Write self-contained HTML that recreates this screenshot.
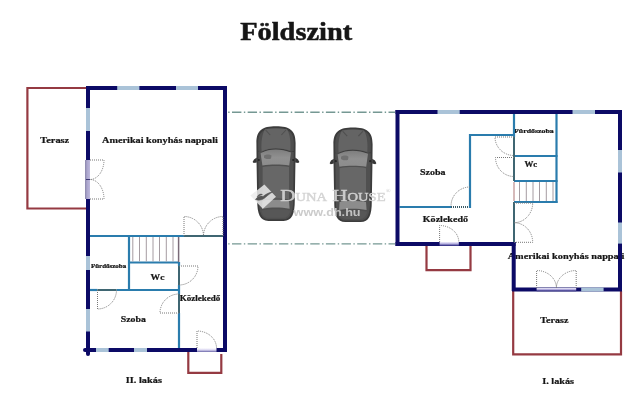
<!DOCTYPE html>
<html><head><meta charset="utf-8">
<style>
html,body{margin:0;padding:0;background:#fff;width:640px;height:400px;overflow:hidden}
svg{display:block;will-change:transform}
text{font-family:"Liberation Serif",serif;font-weight:bold;fill:#161616}
.lb text{stroke:#161616;stroke-width:0.22}
.w{stroke:#0c0a66;stroke-width:4;fill:none}
.win{stroke:#aac3d8;stroke-width:4;fill:none}
.lav{stroke:#b1abd0;stroke-width:4;fill:none}
.t{stroke:#2a7cad;stroke-width:2.2;fill:none}
.r{stroke:#953a42;stroke-width:2.2;fill:none}
.d{stroke:#777;stroke-width:1;fill:none;stroke-dasharray:1 1}
.op{stroke:#3f6672;stroke-width:2;fill:none}
.st{stroke:#a59ca2;stroke-width:1;fill:none}
.dl{stroke:#759893;stroke-width:1.4;fill:none;stroke-dasharray:1.4 2.4 9.4 2.45}
</style></head>
<body>
<svg width="640" height="400" viewBox="0 0 640 400">
<defs>
<linearGradient id="gv" x1="0" y1="0" x2="0" y2="1"><stop offset="0" stop-color="#f0eefa"/><stop offset="0.45" stop-color="#b4aee0"/><stop offset="1" stop-color="#1c1875"/></linearGradient>
<linearGradient id="gv2" x1="0" y1="0" x2="0" y2="1"><stop offset="0" stop-color="#ffffff"/><stop offset="0.5" stop-color="#d8d4f0"/><stop offset="1" stop-color="#6a66a8"/></linearGradient>
<linearGradient id="gh" x1="0" y1="0" x2="1" y2="0"><stop offset="0" stop-color="#8a86aa"/><stop offset="0.4" stop-color="#aaa4cc"/><stop offset="1" stop-color="#bdb8dc"/></linearGradient>
<linearGradient id="ws" x1="0" y1="0" x2="0" y2="1"><stop offset="0" stop-color="#7e7e7e"/><stop offset="0.5" stop-color="#909090"/><stop offset="1" stop-color="#8c8c8c"/></linearGradient>
</defs>
<!-- Title -->
<text x="240.2" y="40.4" font-size="24.5" textLength="112" lengthAdjust="spacingAndGlyphs" style="stroke:#161616;stroke-width:0.5">Földszint</text>

<!-- carport dashed lines -->
<line class="dl" x1="228.2" y1="112.2" x2="395" y2="112.2"/>
<line class="dl" x1="228.2" y1="243.9" x2="395" y2="243.9"/>

<!-- ===== LABELS ===== -->
<g class="lb">
<text x="40.25" y="142.7" font-size="9.0" textLength="28.95" lengthAdjust="spacingAndGlyphs">Terasz</text>
<text x="102.1" y="142.5" font-size="8.6" textLength="115.80" lengthAdjust="spacingAndGlyphs">Amerikai konyhás nappali</text>
<text x="90.9" y="268.1" font-size="6.0" textLength="35.30" lengthAdjust="spacingAndGlyphs">Fürdőszoba</text>
<text x="150.6" y="279.75" font-size="8.2" textLength="13.80" lengthAdjust="spacingAndGlyphs">Wc</text>
<text x="179.75" y="301" font-size="7.3" textLength="40.55" lengthAdjust="spacingAndGlyphs">Közlekedő</text>
<text x="120.75" y="321.8" font-size="8.7" textLength="25.05" lengthAdjust="spacingAndGlyphs">Szoba</text>
<text x="125.8" y="382.7" font-size="8.9" textLength="36.10" lengthAdjust="spacingAndGlyphs">II. lakás</text>
<text x="420" y="174.8" font-size="9.0" textLength="25.50" lengthAdjust="spacingAndGlyphs">Szoba</text>
<text x="514" y="133" font-size="6.3" textLength="39.70" lengthAdjust="spacingAndGlyphs">Fürdőszoba</text>
<text x="524.5" y="166.8" font-size="8.4" textLength="12.75" lengthAdjust="spacingAndGlyphs">Wc</text>
<text x="422.8" y="221.8" font-size="8.4" textLength="45.20" lengthAdjust="spacingAndGlyphs">Közlekedő</text>
<text x="507.7" y="258.8" font-size="8.2" textLength="116.8" lengthAdjust="spacingAndGlyphs">Amerikai konyhás nappali</text>
<text x="540.2" y="322.8" font-size="8.9" textLength="28.20" lengthAdjust="spacingAndGlyphs">Terasz</text>
<text x="542.2" y="384.4" font-size="9.0" textLength="31.90" lengthAdjust="spacingAndGlyphs">I. lakás</text>
</g>
<!-- /LABELS -->
<!-- ===== LEFT BUILDING ===== -->
<!-- red terrace -->
<polyline class="r" points="86,88 27.4,88 27.4,208.5 86,208.5"/>
<!-- red porch -->
<polyline class="r" points="188.3,352 188.3,372.8 221.3,372.8 221.3,354"/>

<!-- teal partitions -->
<line class="t" x1="90" y1="236" x2="184" y2="236"/>
<line class="t" x1="129" y1="236" x2="129" y2="290"/>
<line class="t" x1="129" y1="262.5" x2="179" y2="262.5"/>
<line class="t" x1="179" y1="262" x2="179" y2="266"/>
<line x1="178.6" y1="237" x2="178.6" y2="262" stroke="#7a6a78" stroke-width="1.5"/>
<line class="t" x1="179" y1="285" x2="179" y2="294"/>
<line class="t" x1="179" y1="313" x2="179" y2="348"/>
<line class="t" x1="90" y1="290" x2="97.5" y2="290"/>
<line class="t" x1="116.5" y1="290" x2="179" y2="290"/>
<!-- door openings -->
<line class="op" x1="184" y1="236" x2="223" y2="236"/>
<line class="op" x1="179" y1="266" x2="179" y2="285"/>
<line class="op" x1="179" y1="294" x2="179" y2="313"/>
<line class="op" x1="97.5" y1="290" x2="116.5" y2="290"/>
<!-- stairs -->
<g class="st">
<line x1="132.8" y1="237" x2="132.8" y2="261.5"/>
<line x1="139.5" y1="237" x2="139.5" y2="261.5"/>
<line x1="146.3" y1="237" x2="146.3" y2="261.5"/>
<line x1="153" y1="237" x2="153" y2="261.5"/>
<line x1="159.5" y1="237" x2="159.5" y2="261.5"/>
<line x1="166.3" y1="237" x2="166.3" y2="261.5"/>
<line x1="173" y1="237" x2="173" y2="261.5"/>
</g>

<!-- walls -->
<line class="w" x1="88" y1="86" x2="88" y2="350"/>
<line class="w" x1="88" y1="348" x2="88" y2="354" stroke-linecap="round"/>
<line class="w" x1="86" y1="88" x2="227" y2="88"/>
<line class="w" x1="225" y1="86" x2="225" y2="352"/>
<line class="w" x1="88" y1="350" x2="227" y2="350"/>
<line class="w" x1="85" y1="350" x2="90" y2="350" stroke-linecap="round"/>
<!-- windows -->
<line class="win" x1="117.2" y1="88" x2="139.4" y2="88"/>
<line class="win" x1="176" y1="88" x2="198" y2="88"/>
<line class="win" x1="88" y1="108" x2="88" y2="131"/>
<line class="win" x1="88" y1="256" x2="88" y2="270"/>
<line class="win" x1="88" y1="309" x2="88" y2="331.5"/>
<line class="win" x1="96" y1="350" x2="108.7" y2="350"/>
<line class="win" x1="134" y1="350" x2="147" y2="350"/>
<rect x="85" y="160" width="5" height="39" fill="url(#gh)"/>
<line x1="86" y1="179.5" x2="90" y2="179.5" stroke="#3a3670" stroke-width="1"/>
<rect x="197" y="348" width="19.5" height="4" fill="url(#gv2)"/>

<!-- doors -->
<g class="d">
<path d="M90,160 H104 A14,19.5 0 0 1 90,179.5"/>
<path d="M90,199 H104 A14,19.5 0 0 0 90,179.5"/>
<path d="M184,236 V216.5 A19.5,19.5 0 0 1 203.5,236"/>
<path d="M223,236 V216.5 A19.5,19.5 0 0 0 203.5,236"/>
<path d="M179,266 H198 A19,19 0 0 1 179,285"/>
<path d="M179,313 H160 A19,19 0 0 1 179,294"/>
<path d="M97.5,290 V309 A19,19 0 0 0 116.5,290"/>
<path d="M197,348 V331 A19.5,17 0 0 1 216.5,348"/>
</g>

<!-- ===== RIGHT BUILDING ===== -->
<polyline class="r" points="426.5,246 426.5,270.2 470.5,270.2 470.5,246"/>
<polyline class="r" points="513.2,291 513.2,354.3 621,354.3 621,291"/>

<!-- teal -->
<line class="t" x1="514" y1="114" x2="514" y2="137"/>
<line class="t" x1="556.5" y1="114" x2="556.5" y2="203"/>
<line class="t" x1="470" y1="135" x2="515" y2="135"/>
<line class="t" x1="470" y1="134" x2="470" y2="208"/>
<line class="t" x1="399.5" y1="207" x2="451" y2="207"/>
<line class="t" x1="514" y1="156" x2="557.5" y2="156"/>
<line class="t" x1="514" y1="181" x2="557.5" y2="181"/>
<line class="t" x1="514" y1="202" x2="557.5" y2="202"/>
<line class="op" x1="514" y1="137" x2="514" y2="181"/>
<line class="op" x1="514" y1="202" x2="514" y2="242"/>
<line x1="451" y1="207" x2="469" y2="207" stroke="#3a5a66" stroke-width="2" stroke-dasharray="1 1"/>
<line x1="514" y1="182" x2="514" y2="201" stroke="#c9a3a3" stroke-width="1.5"/>
<g class="st">
<line x1="519.5" y1="182" x2="519.5" y2="201"/>
<line x1="526.3" y1="182" x2="526.3" y2="201"/>
<line x1="533" y1="182" x2="533" y2="201"/>
<line x1="539.5" y1="182" x2="539.5" y2="201"/>
<line x1="546.3" y1="182" x2="546.3" y2="201"/>
<line x1="553" y1="182" x2="553" y2="201"/>
</g>

<!-- walls -->
<line class="w" x1="397.5" y1="110" x2="397.5" y2="246"/>
<line class="w" x1="395.5" y1="112" x2="622" y2="112"/>
<line class="w" x1="620" y1="110" x2="620" y2="291"/>
<line class="w" x1="395.5" y1="244" x2="515.5" y2="244"/>
<line class="w" x1="513.7" y1="242" x2="513.7" y2="291"/>
<line class="w" x1="512" y1="289.5" x2="622" y2="289.5"/>
<line class="win" x1="437.5" y1="112" x2="459.7" y2="112"/>
<line class="win" x1="572.5" y1="112" x2="595" y2="112"/>
<line class="win" x1="620" y1="150" x2="620" y2="172.5"/>
<line class="win" x1="620" y1="222.5" x2="620" y2="243.6"/>
<line class="win" x1="581.2" y1="289.5" x2="603.6" y2="289.5"/>
<rect x="439.6" y="242" width="19.2" height="4" fill="url(#gv)"/>
<rect x="536.6" y="288" width="39.6" height="3.2" fill="url(#gv)"/>

<g class="d">
<path d="M514,137 H495 A19,18.5 0 0 0 514,155.5"/>
<path d="M514,157.5 H495.5 A18.5,19 0 0 0 514,176.5"/>
<path d="M470,187 A19,19 0 0 0 451,206"/>
<path d="M439.6,242 V225.5 A19.2,16.5 0 0 1 458.8,242"/>
<path d="M514,203 H532.7 A18.7,19.7 0 0 1 514,222.7"/>
<path d="M514,242.3 H532.7 A18.7,19.6 0 0 0 514,222.7"/>
<path d="M536.6,288 V270.5 A19.8,17.5 0 0 1 556.4,288"/>
<path d="M576.2,288 V270.5 A19.8,17.5 0 0 0 556.4,288"/>
</g>

<!-- ===== CARS ===== -->
<g id="car">
<path d="M256.8,157.6 L254,159.4 L252.6,162 L253.8,163.1 L256.9,162.4 Z M295.2,157.6 L298,159.4 L299.4,162 L298.2,163.1 L295.1,162.4 Z" fill="#363636"/>
<path d="M256.4,143 C256.4,130.5 262,126.3 276,126.3 C290,126.3 295.6,130.5 295.6,143 L295.4,165 L294.8,200 C294.8,214 292,220.8 283.6,220.9 L268.4,220.9 C260,220.8 257.2,214 257.2,200 L256.6,165 Z" fill="#3c3c3c"/>
<path d="M258.2,152 L258.4,165 L258.9,200 C258.9,212.5 261.5,219.1 268.3,219.3 L283.7,219.3 C290.5,219.1 293.1,212.5 293.1,200 L293.6,165 L293.8,152 Z" fill="#505050"/>
<path d="M258.1,143.5 C258.1,132 263.5,127.9 276,127.9 C288.5,127.9 293.9,132 293.9,143.5 L293.7,151 L290.8,151.8 C286,149.6 281,148.6 275.8,148.6 C271,148.6 266,149.6 260.8,152.4 L258.3,151.5 Z" fill="#4e4e4e"/>
<path d="M265,129.2 C269,128.3 283,128.3 287,129.2 C290,134 291,142 290.3,150.8 C286,149 281,148.2 275.8,148.2 C271,148.2 266,149 261.6,151.4 C261,142 262,134 265,129.2 Z" fill="#646464"/>
<path d="M265.6,130 L270.2,135 M286,130 L281.4,135" stroke="#505050" stroke-width="1.1" fill="none"/>
<path d="M260.6,153.2 C265.5,150.6 270.5,149.6 275.8,149.6 C281,149.6 286,150.6 291,152.6 L289.2,165.6 C285,164.8 280.5,164.5 275.8,164.5 C271,164.5 266.8,164.8 262.4,165.6 Z" fill="url(#ws)"/>
<circle cx="258.8" cy="160" r="1.1" fill="#262626"/><circle cx="293.2" cy="160" r="1.1" fill="#262626"/>
<path d="M264,155.5 C266,154 270,154 271.5,155.5 L271,158.5 C268.5,159.5 265.5,159 264,157.8 Z" fill="#707070"/>
<path d="M262.6,167 C267,166.2 271,165.9 275.8,165.9 C280.5,165.9 285,166.2 289,167 L289,199.5 C285,198.8 280.5,198.6 275.8,198.6 C271,198.6 267,198.8 262.6,199.5 Z" fill="#676767"/>
<path d="M262.6,200.8 C267,200 271,199.8 275.8,199.8 C280.5,199.8 285,200 289,200.8 L289.6,208.8 C285,207.7 280.5,207.5 275.8,207.5 C271,207.5 266.6,207.7 262,208.8 Z" fill="#8c8c8c"/>
<path d="M261.4,210.4 C266,209.4 271,209.2 275.8,209.2 C280.5,209.2 285.5,209.4 290.2,210.4 C289.5,214.5 287.5,217.6 283,217.8 L268.6,217.8 C264,217.6 262,214.5 261.4,210.4 Z" fill="#575757"/>
</g>
<use href="#car" x="77" y="1.2"/>

<!-- ===== WATERMARK ===== -->
<path d="M264.4,184.4 L276,196.8 L262.8,208.8 L250.4,195.6 Z" fill="#ececec" fill-opacity="0.84"/>
<path d="M255.5,199.5 C258,196 261,195.5 263,196.5 C266,194 269,192.5 272.5,192 C269,194 266.5,196.5 264,198.5 C261,200.5 258,200.5 255.5,199.5 Z M257,197 C258.5,194.5 260.5,193.5 262.5,194.5" fill="#555" stroke="#555" stroke-width="0.6"/>
<text x="280.2" y="201.2" font-size="16.8" textLength="105.4" lengthAdjust="spacingAndGlyphs" style="fill:#d2d2d2;font-weight:normal;fill-opacity:0.92;stroke:#d2d2d2;stroke-width:0.45;stroke-opacity:0.92">D<tspan font-size="11.6">UNA</tspan> H<tspan font-size="11.6">OUSE</tspan></text>
<text x="386" y="192.5" font-size="6" style="fill:#c4c4c4;font-weight:normal">®</text>
<text x="293.6" y="215.5" font-size="10.2" textLength="67" lengthAdjust="spacingAndGlyphs" style="font-family:'Liberation Sans',sans-serif;fill:#c8c8c8;fill-opacity:0.95">www.dh.hu</text>
</svg>
</body></html>
